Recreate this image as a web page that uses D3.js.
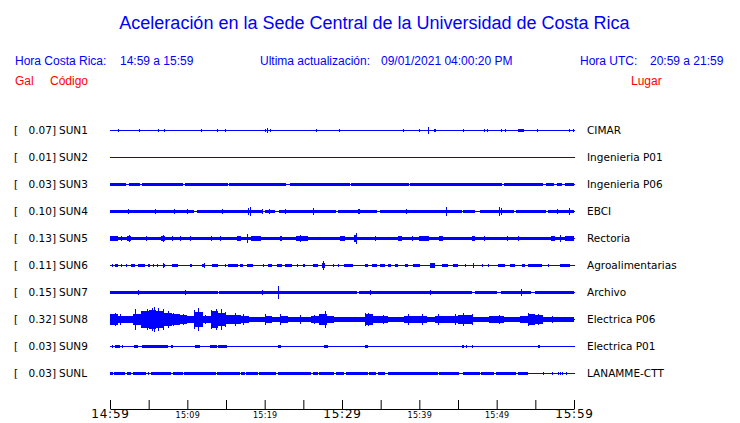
<!DOCTYPE html>
<html><head><meta charset="utf-8">
<script src="https://cdn.jsdelivr.net/npm/d3@7"></script>
<style>body{margin:0;background:#fff}svg{display:block}</style>
</head><body><svg id="c" width="740" height="423"></svg>
<script>
// ---------- data ----------
const title = "Aceleración en la Sede Central de la Universidad de Costa Rica";
const codes = ["SUN1","SUN2","SUN3","SUN4","SUN5","SUN6","SUN7","SUN8","SUN9","SUNL"];
const peaks = ["0.07","0.01","0.03","0.10","0.13","0.11","0.15","0.32","0.03","0.03"];
const places = ["CIMAR","Ingenieria P01","Ingenieria P06","EBCI","Rectoria","Agroalimentarias","Archivo","Electrica P06","Electrica P01","LANAMME-CTT"];
const tickMinutes = [0,5,10,15,20,25,30,35,40,45,50,55,60];
const tickLabels = ["14:59","","15:09","","15:19","","15:29","","15:39","","15:49","","15:59"];
const majorLabels = ["14:59","15:29","15:59"];

// per-minute envelopes (Gal, half amplitude)
const env5 = [0.04,0.035,0.035,0.03,0.03,0.03,0.035,0.03,0.035,0.03,0.03,0.028,0.028,0.03,0.03,0.03,0.035,0.03,0.03,0.03,
              0.03,0.03,0.03,0.03,0.035,0.035,0.03,0.03,0.028,0.03,0.035,0.035,0.028,0.028,0.028,0.03,0.03,0.035,0.028,0.03,
              0.03,0.028,0.035,0.03,0.03,0.03,0.035,0.03,0.03,0.028,0.028,0.03,0.03,0.028,0.03,0.03,0.03,0.035,0.035,0.035];
const env8 = [0.12,0.09,0.08,0.12,0.2,0.24,0.22,0.16,0.12,0.11,0.09,0.18,0.07,0.2,0.16,0.11,0.1,0.08,0.04,0.045,
              0.08,0.05,0.07,0.055,0.055,0.055,0.08,0.14,0.07,0.04,0.04,0.04,0.06,0.13,0.08,0.07,0.06,0.06,0.09,0.07,
              0.09,0.055,0.09,0.07,0.09,0.11,0.11,0.045,0.04,0.07,0.08,0.04,0.04,0.08,0.12,0.1,0.055,0.06,0.055,0.055];

// bursts: [start minute, end minute, half amplitude in Gal]
const sun1 = [[1.08,1.08,0.015],[3.79,3.79,0.025],[6.2,6.35,0.015],[7.03,7.03,0.02],[8.45,8.45,0.01],[11.81,11.81,0.02],
  [13.88,13.88,0.02],[14.9,15.05,0.025],[20.04,20.04,0.035],[20.3,20.3,0.04],[20.73,20.73,0.02],[26.68,26.68,0.02],
  [27.2,27.2,0.01],[29.66,29.66,0.025],[37.07,37.07,0.01],[37.93,37.93,0.02],[38.71,38.71,0.01],[39.95,40.1,0.025],
  [41.16,41.16,0.07],[41.9,41.9,0.015],[42.03,42.03,0.02],[45.69,45.69,0.02],[48.4,48.55,0.025],[48.75,48.75,0.02],
  [50.55,50.7,0.025],[51.08,51.08,0.02],[52.7,53.5,0.03],[54.4,54.4,0.01],[54.6,54.6,0.01],[55.26,55.26,0.02],
  [59.4,59.4,0.02],[59.9,59.9,0.025]];
const sun2 = [[0.3,0.3,0.01]];
const sun3 = [[0,2.1,0.022],[2.4,3.9,0.022],[4.2,9.5,0.022],[9.7,15.2,0.022],[15.4,22.8,0.022],[23.3,31.0,0.022],
  [31.2,38.6,0.022],[38.8,50.7,0.022],[51.0,56.0,0.022],[56.4,57.4,0.02],
  [57.8,58.4,0.022],[58.8,60,0.022],[12.5,12.5,0.03],[35.2,35.2,0.03]];
const sun4 = [[0,10.8,0.028],[11.2,19.6,0.028],[20.0,21.3,0.028],[21.8,29.1,0.028],[29.5,34.5,0.028],[34.9,45.5,0.028],
  [45.7,47.2,0.028],[47.8,52.3,0.028],[52.5,56.4,0.028],[56.6,60,0.028],
  [2.37,2.37,0.06],[4.1,4.1,0.03],[5.8,5.8,0.04],[8.3,8.3,0.06],[10.0,10.0,0.04],[14.5,14.5,0.04],[17.8,17.8,0.09],
  [18.1,18.1,0.1],[19.6,19.6,0.04],[20.6,20.6,0.04],[22.6,22.6,0.04],[26.25,26.25,0.07],[29.1,29.1,0.03],
  [32.1,32.3,0.06],[38.3,38.3,0.06],[43.4,43.4,0.1],[50.3,50.3,0.1],[50.5,50.5,0.08],[57.8,57.8,0.04],[59.4,59.4,0.07]];
const sun5 = [[0,1.0,0.06],[1.4,1.6,0.05],[2.2,2.7,0.05],[2.5,2.5,0.08],[4.6,4.6,0.04],[6.6,7.1,0.06],[6.9,6.9,0.07],
  [8.0,8.2,0.05],[9.0,9.2,0.05],[10.3,10.4,0.05],[13.1,13.1,0.04],[14.2,14.2,0.04],[16.4,17.0,0.05],[17.7,17.7,0.11],
  [18.2,19.5,0.04],[22.0,22.3,0.05],[24.1,25.6,0.06],[24.6,24.6,0.07],[29.8,30.4,0.06],[31.5,32.0,0.07],[31.8,31.8,0.13],
  [34.3,34.3,0.04],[37.3,37.7,0.06],[39.0,39.0,0.04],[40.0,41.2,0.04],[42.5,43.1,0.05],[46.8,47.2,0.06],[48.4,48.4,0.04],
  [51.3,51.3,0.04],[52.8,52.8,0.04],[57.0,57.5,0.06],[58.2,58.2,0.08],[58.9,60,0.05]];
const sun6 = [[0.22,0.22,0.02],[0.65,0.99,0.022],[1.38,1.38,0.02],[2.03,2.03,0.02],[2.72,3.23,0.022],[3.58,4.53,0.022],
  [4.87,5.17,0.022],[5.6,5.6,0.02],[6.03,6.03,0.02],[6.81,7.11,0.022],[6.9,6.9,0.05],[7.97,8.84,0.022],
  [10.34,10.65,0.022],[11.85,12.28,0.03],[12.1,12.1,0.04],[13.15,14.0,0.022],[14.87,14.87,0.02],[15.3,16.6,0.022],
  [16.8,17.24,0.022],[17.67,18.53,0.022],[19.83,19.83,0.02],[20.47,20.9,0.022],[21.55,22.2,0.022],[22.63,23.49,0.022],
  [24.14,24.35,0.022],[25.0,25.2,0.022],[26.3,26.94,0.035],[27.37,27.8,0.04],[27.6,27.6,0.11],[28.88,28.88,0.02],
  [29.53,29.53,0.02],[30.3,31.47,0.03],[32.97,33.4,0.022],[33.84,34.48,0.022],[34.9,35.56,0.022],[36.0,36.4,0.022],
  [36.85,37.28,0.022],[38.15,38.58,0.022],[39.2,40.1,0.022],[41.38,42.03,0.04],[42.89,43.75,0.022],[44.4,45.04,0.022],
  [45.9,45.9,0.02],[46.98,46.98,0.04],[48.06,48.06,0.02],[48.92,48.92,0.02],[50.2,51.07,0.022],[51.72,52.37,0.03],
  [53.23,53.66,0.022],[54.1,55.82,0.022],[56.68,56.68,0.02],[58.19,59.48,0.022]];
const sun7 = [[0,14.0,0.025],[14.1,32.0,0.025],[32.2,46.8,0.025],[47.2,50.0,0.025],[50.6,54.5,0.025],[55.0,60,0.025],
  [3.66,3.66,0.06],[4.96,4.96,0.03],[7.54,7.54,0.03],[9.7,9.7,0.05],[13.1,13.1,0.03],[15.5,15.5,0.03],[19.6,19.6,0.05],
  [21.7,21.7,0.15],[23.5,23.5,0.03],[25.4,25.4,0.035],[30.4,30.4,0.02],[33.6,33.6,0.04],[36.0,36.0,0.035],
  [37.3,37.3,0.03],[38.6,38.6,0.03],[41.4,41.4,0.04],[44.2,44.2,0.035],[45.7,45.7,0.03],[48.9,48.9,0.03],
  [53.2,53.2,0.07],[55.4,55.4,0.03],[59.3,59.3,0.035]];
const sun8 = [[0.65,0.65,0.16],[1.29,1.29,0.14],[3.23,3.23,0.26],[4.22,4.22,0.21],[4.74,4.74,0.27],[5.39,5.39,0.28],
  [5.73,5.73,0.32],[6.25,6.25,0.28],[6.9,6.9,0.26],[7.54,7.54,0.2],[8.19,8.19,0.15],[9.48,9.48,0.14],[10.9,10.9,0.24],
  [11.42,11.42,0.28],[12.28,12.28,0.1],[13.06,13.06,0.24],[13.66,13.66,0.27],[14.35,14.35,0.26],[14.87,14.87,0.19],
  [16.16,16.16,0.15],[17.24,17.24,0.12],[20.04,20.04,0.12],[21.98,21.98,0.13],[24.57,24.57,0.1],[26.42,26.42,0.11],
  [27.8,27.8,0.2],[32.97,32.97,0.17],[33.41,33.41,0.16],[35.34,35.34,0.1],[38.58,38.58,0.12],[40.3,40.3,0.12],
  [42.46,42.46,0.12],[44.61,44.61,0.13],[45.69,45.69,0.15],[46.77,46.77,0.14],[50.32,50.32,0.1],[54.09,54.09,0.15],
  [55.39,55.39,0.14],[57.11,57.11,0.09]];
const sun9 = [[0.22,0.3,0.02],[0.65,1.29,0.025],[1.51,1.51,0.015],[2.59,2.59,0.01],[3.15,3.58,0.02],[4.09,7.54,0.025],
  [7.84,8.19,0.015],[8.84,8.84,0.01],[9.57,9.57,0.01],[10.99,11.64,0.025],[12.5,12.5,0.01],[12.93,13.79,0.025],
  [14.0,15.09,0.025],[15.86,15.86,0.012],[17.24,17.24,0.008],[17.8,17.8,0.008],[20.13,20.13,0.008],[21.77,22.07,0.02],
  [27.67,28.15,0.025],[32.97,33.41,0.02],[39.0,39.0,0.006],[40.3,40.65,0.01],[42.59,42.59,0.006],[44.61,44.61,0.01],
  [45.47,45.82,0.02],[45.99,45.99,0.03],[46.85,46.85,0.015],[54.6,54.6,0.01],[55.3,55.6,0.02]];
const sunL = [[0,0.35,0.022],[0.55,2.0,0.022],[2.2,2.75,0.022],[2.95,4.7,0.022],[4.9,5.1,0.022],[5.3,7.9,0.022],
  [8.1,9.4,0.022],[9.6,13.7,0.022],[13.9,16.75,0.022],[16.95,17.4,0.022],[17.6,19.1,0.022],[19.3,21.5,0.022],
  [21.7,26.0,0.022],[26.2,26.9,0.022],[27.05,29.0,0.022],[29.2,30.3,0.022],[30.5,33.35,0.022],[33.55,34.4,0.022],
  [34.6,35.6,0.022],[35.95,42.4,0.022],[42.6,45.1,0.022],[45.7,47.8,0.022],[47.95,49.7,0.022],[49.9,52.5,0.022],
  [52.7,54.1,0.022],[55.95,55.95,0.015],[57.11,57.11,0.015],[57.97,57.97,0.015],[58.19,58.19,0.015],[58.4,58.4,0.015],
  [58.97,58.97,0.015]];

const traceBursts = [sun1,sun2,sun3,sun4,sun5,sun6,sun7,sun8,sun9,sunL];
const traceEnv = [null,null,null,null,env5,null,null,env8,null,null];

// ---------- drawing ----------
const svg = d3.select("#c");
const BLUE = "#0000ff";
const x = d3.scaleLinear().domain([0,60]).range([110,574]);
const row = d3.scalePoint().domain(codes).range([130.5,373.5]);
const amp = d3.scaleLinear().domain([0,0.35]).range([0,13.3]);

// header
const hdr = svg.append("g").style("font-family","'Liberation Sans', Arial, sans-serif");
hdr.append("text").attr("x",374.5).attr("y",29).attr("text-anchor","middle")
  .attr("fill",BLUE).style("font-size","18px").text(title);
const row2 = [["Hora Costa Rica:",15],["14:59 a 15:59",120],["Ultima actualización:",260],
              ["09/01/2021 04:00:20 PM",381],["Hora UTC:",580],["20:59 a 21:59",650]];
hdr.selectAll(".r2").data(row2).join("text").attr("class","r2")
  .attr("x",d=>d[1]).attr("y",65).attr("fill",BLUE).style("font-size","12px").text(d=>d[0]);
const row3 = [["Gal",15],["Código",50],["Lugar",631]];
hdr.selectAll(".r3").data(row3).join("text").attr("class","r3")
  .attr("x",d=>d[1]).attr("y",84.5).attr("fill","#ff0000").style("font-size","12px").text(d=>d[0]);

// traces
codes.forEach((code,i)=>{
  const cy = row(code);
  const g = svg.append("g");
  g.append("line").attr("x1",x(0)).attr("x2",x(60)+1).attr("y1",cy).attr("y2",cy)
    .attr("stroke",BLUE).attr("stroke-width",1).attr("shape-rendering","crispEdges");
  const env = traceEnv[i];
  if(env){
    const pts = [{t:0,a:env[0]}].concat(env.map((a,k)=>({t:k+0.5,a})), [{t:60,a:env[env.length-1]}]);
    const area = d3.area().x(d=>x(d.t)).y0(d=>cy+amp(d.a)+0.5).y1(d=>cy-amp(d.a)-0.5).curve(d3.curveStep);
    g.append("path").attr("d",area(pts)).attr("fill",BLUE).attr("shape-rendering","crispEdges");
  }
  g.selectAll("rect").data(traceBursts[i]).join("rect")
    .attr("x",d=>x(d[0]))
    .attr("width",d=>Math.max(1,x(d[1])-x(d[0])))
    .attr("y",d=>cy-amp(d[2])-0.5)
    .attr("height",d=>2*amp(d[2])+1)
    .attr("fill",BLUE).attr("shape-rendering","crispEdges");
});

// left/right labels
const lab = svg.append("g").style("font-family","'DejaVu Sans', sans-serif").style("font-size","10.5px").attr("fill","#000");
codes.forEach((code,i)=>{
  const cy = row(code)+3.5;
  lab.append("text").attr("x",14).attr("y",cy).text("[");
  lab.append("text").attr("x",56).attr("y",cy).attr("text-anchor","end").text(peaks[i]+"]");
  lab.append("text").attr("x",59).attr("y",cy).text(code);
  lab.append("text").attr("x",587).attr("y",cy).text(places[i]);
});

// time axis
const axis = d3.axisBottom(x).tickValues(tickMinutes).tickSize(-9).tickSizeOuter(0)
  .tickFormat((d,i)=>tickLabels[i]);
const gA = svg.append("g").attr("transform","translate(0,409)").call(axis);
gA.attr("font-family","'DejaVu Sans', sans-serif").attr("color","#000");
gA.selectAll(".tick text").attr("y",9).attr("dy",0)
  .style("font-size",(d,i)=>majorLabels.includes(tickLabels[i])?"12px":"8px")
  .style("letter-spacing",(d,i)=>majorLabels.includes(tickLabels[i])?"0.8px":"0.3px");
</script></body></html>
